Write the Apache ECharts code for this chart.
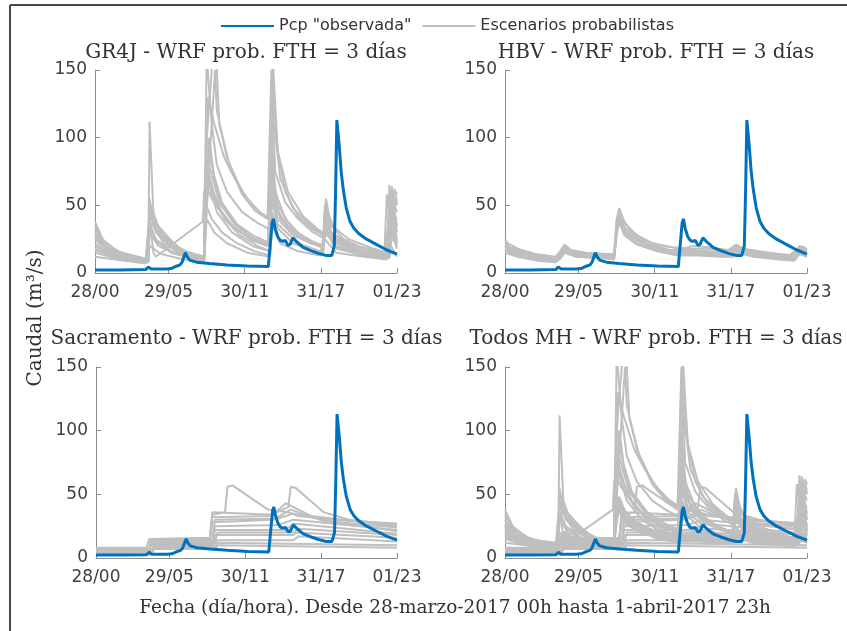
<!DOCTYPE html>
<html>
<head>
<meta charset="utf-8">
<script src="https://cdn.jsdelivr.net/npm/echarts@6/dist/echarts.min.js"></script>
<style>
  html, body { margin: 0; padding: 0; background: #fff; }
  #chart { width: 847px; height: 631px; }
</style>
</head>
<body>
<div id="chart"></div>
<script>
// horas desde 28-marzo 00h
var xTicks = [0, 29, 59, 89, 119]
var xTickLabels = ['28/00', '29/05', '30/11', '31/17', '01/23']
var panelTitles = [
  'GR4J - WRF prob. FTH = 3 días',
  'HBV - WRF prob. FTH = 3 días',
  'Sacramento - WRF prob. FTH = 3 días',
  'Todos MH - WRF prob. FTH = 3 días'
]

// caudal observado [hora, m3/s]
var obs = [[0,2.3],[10,2.3],[20,2.5],[21,4.5],[22,3],[28,3],[30,3.3],[32,5],[33.5,6],[34.3,8],[35,9],[35.6,15],[36.3,12],[37.3,9.5],[40,8],[45,7],[52,6],[60,5.2],[68.3,4.8],[69,20],[69.8,37],[70.3,40],[71,33],[72,27],[73,24],[74,23.5],[75,24],[76,20.5],[76.8,21],[78,26],[79.5,23],[82,19],[85,16.5],[88,14.5],[91,13],[93.3,13],[94.3,20],[94.8,60],[95.3,113],[96.2,95],[97,75],[97.8,62],[99,48],[100.5,38],[102,33],[104,29],[107,25],[111,21],[115,17],[119,14]]

// escenarios GR4J
var gr4j = [
  [[0,38],[3,25],[8,17],[14,12],[21,10],[21.5,112],[23,45],[26,28],[30,20],[36,15],[43,12],[44,160],[46,110],[48,80],[52,60],[58,45],[64,37],[69,32],[70,160],[72,90],[75,60],[80,42],[86,32],[90,28],[91,55],[93,35],[98,25],[105,19],[112,15],[115,14],[116,65],[117,40],[118,62],[119,58]],
  [[0,30],[4,20],[10,14],[20,10],[21.5,45],[23,38],[27,28],[32,20],[37,12],[43,10],[44,100],[46,150],[47.5,170],[49,110],[53,80],[58,58],[63,46],[68,40],[69.5,150],[71,75],[75,52],[80,40],[86,30],[90,26],[90.5,45],[93,30],[100,22],[108,17],[114,14],[115,58],[117,30],[119,25]],
  [[0,25],[5,16],[12,12],[21,10],[21.5,40],[23,15],[24,12],[42.5,38],[43,60],[45,70],[48,50],[55,33],[62,24],[68,20],[69.5,60],[72,40],[78,28],[85,22],[90,20],[90.6,40],[93,25],[100,19],[110,14],[116,13],[117,55],[119,22]],
  [[0,20],[6,14],[13,11],[21,9],[21.5,42],[30,24],[37.4,12],[43,10],[43.5,65],[46,55],[52,38],[60,27],[68,20],[69.5,75],[71,50],[76,33],[84,23],[90,19],[90.8,30],[95,20],[105,15],[115,12],[116,48],[119,20]],
  [[0,18],[6,13],[14,10],[21,8],[21.5,50],[23,35],[27,22],[33,15],[40,11],[43,10],[44,60],[45,100],[47,70],[50,50],[56,35],[62,26],[69,20],[70,70],[72,45],[78,30],[85,22],[90,19],[91,40],[94,26],[102,18],[110,14],[116,12],[117,60],[119,30]],
  [[0,15],[8,11],[20,8],[21.3,35],[24,25],[30,16],[38,12],[43,10],[43.8,50],[46,40],[50,30],[56,22],[63,16],[69,13],[69.8,45],[72,33],[78,22],[85,17],[90,15],[90.6,35],[94,20],[104,14],[114,11],[115.5,35],[117,25],[119,22]],
  [[0,12],[8,10],[20,7],[21.5,20],[26,14],[35,10],[43,9],[44,40],[47,30],[52,22],[60,15],[69,12],[69.8,35],[73,22],[80,16],[89,13],[90.5,25],[95,15],[106,12],[115,10],[116,22],[119,12]],
  [[0,22],[5,15],[12,11],[21,9],[21.4,30],[25,20],[32,14],[43,11],[43.5,80],[45,65],[48,45],[54,30],[62,20],[69,16],[69.6,100],[71,60],[75,40],[82,26],[90,20],[90.7,50],[93,30],[100,20],[108,15],[116,12],[116.5,45],[119,40]],
  [[0,28],[5,18],[13,12],[21,9],[21.6,38],[24,32],[30,22],[36,16],[43,12],[44.5,130],[47,110],[51,85],[55,70],[60,55],[65,45],[69,40],[70,140],[72,90],[76,60],[82,42],[88,32],[92,27],[96,24],[104,19],[112,16],[116,14],[117,30],[119,18]],
  [[0,33],[4,22],[10,15],[21,10],[21.5,48],[24,30],[30,19],[38,13],[43,11],[43.3,70],[45,90],[46.5,75],[50,52],[56,36],[63,27],[69,22],[69.7,80],[72,50],[78,32],[86,23],[90,20],[90.4,42],[94,25],[102,18],[112,14],[116,13],[116.3,60],[118,50],[119,45]],
  [[0,26],[6,16],[14,11],[21,9],[21.7,44],[25,28],[31,18],[40,12],[43,11],[44.2,85],[46,72],[49,52],[55,36],[62,26],[69,21],[69.9,65],[73,40],[80,27],[88,20],[90,18],[90.9,38],[95,22],[104,16],[114,12],[117.5,50],[119,35]],
  [[0,17],[7,12],[15,9],[21,8],[21.4,38],[24,24],[30,15],[40,10],[43,9],[44.6,75],[47,58],[51,40],[57,28],[64,20],[69,16],[69.6,55],[72,36],[80,22],[89,16],[90.5,33],[95,18],[106,13],[116,11],[118.5,58],[119,50]],
  [[0,35],[3,24],[9,16],[21,10],[21.5,55],[23,40],[28,24],[35,16],[43,12],[45.5,95],[47.3,150],[48,120],[52,85],[58,60],[63,48],[68,40],[70,120],[73,70],[78,48],[85,35],[90,28],[90.6,50],[94,34],[100,25],[108,19],[115,15],[116,40],[117,64],[118,30],[119,26]]
]

// escenarios HBV
var hbv = [
  [[0,25],[1,22],[5,18],[12,14],[20,12],[22,17],[23.5,21],[26,17],[32,15],[40,14],[43,14],[44,40],[45,48],[47,38],[50,30],[55,24],[62,20],[70,18],[74,20],[80,19],[88,17],[91,21],[94,18],[100,16],[108,14],[114,13],[116,20],[118,19],[119,17]],
  [[0,21],[3,17],[10,13],[20,10],[22,14],[23.5,19],[27,15],[35,13],[43,12],[44,36],[45,45],[47,34],[51,27],[57,21],[65,17],[72,17],[80,16],[88,15],[91,19],[95,16],[104,14],[113,12],[116,18],[119,16]],
  [[0,18],[4,14],[12,11],[20,9],[22,12],[23.5,17],[28,13],[36,12],[43,11],[44,32],[45,42],[47,31],[52,24],[58,19],[66,15],[74,15],[82,14],[89,13],[91,17],[96,14],[106,12],[114,10],[116,16],[119,14]],
  [[0,15],[5,12],[13,9],[20,8],[22,11],[23.5,15],[28,12],[38,11],[43,10],[44,28],[45,38],[47,28],[52,21],[60,16],[68,13],[76,13],[85,12],[90,12],[91.5,15],[98,12],[108,10],[114,9],[116,14],[119,12]],
  [[0,23],[2,19],[8,15],[16,12],[20,11],[22,15],[23.5,20],[26,16],[33,14],[43,13],[44,38],[45,46],[47.5,36],[52,28],[58,22],[66,19],[73,18],[80,18],[88,16],[91,20],[95,17],[103,15],[112,13],[116,19],[119,17]],
  [[0,20],[3,16],[10,12],[20,10],[22,13],[23.5,18],[27,14],[36,12],[43,12],[44,34],[45,44],[47,33],[52,25],[59,19],[67,16],[74,16],[82,15],[89,14],[91,18],[96,15],[105,13],[114,11],[116,17],[119,15]],
  [[0,17],[4,13],[12,10],[20,9],[22,12],[23.5,16],[28,12],[37,11],[43,11],[44,30],[45,40],[47,30],[52,22],[60,17],[68,14],[76,14],[84,13],[90,13],[91.5,16],[98,13],[107,11],[114,10],[116,15],[119,13]]
]

// escenarios Sacramento
var sac = [
  [[0,8],[20,8],[21,15],[45,15],[46,34],[51,36],[52,56],[54,57],[68,38],[76,36],[80,33],[100,29],[119,27]],
  [[0,7],[20,7],[21,14],[45,14],[46,32],[68,33],[76,40],[77,56],[79,55],[90,36],[100,30],[119,26]],
  [[0,6],[21,6],[22,13],[45,13],[46,28],[70,30],[77,38],[90,29],[119,24]],
  [[0,6],[21,6],[22,12],[46,12],[47,25],[72,26],[78,30],[119,22]],
  [[0,5],[21,5],[22,11],[46,11],[47,22],[75,22],[78,27],[119,19]],
  [[0,5],[22,5],[23,10],[46,10],[47,18],[78,18],[79,20],[119,16]],
  [[0,4],[22,4],[23,9],[46,9],[48,14],[78,14],[80,17],[119,13]],
  [[0,4],[22,4],[23,8],[47,8],[48,12],[119,10]],
  [[0,3],[22,3],[23,7],[47,7],[48,10],[119,8]],
  [[0,7],[21,7],[22,15],[45,16],[46,36],[70,34],[75,43],[85,33],[119,25]],
  [[0,6],[21,6],[22,14],[46,14],[47,30],[72,31],[78,35],[95,28],[119,21]],
  [[0,5],[22,5],[23,12],[47,12],[48,20],[78,20],[80,23],[119,18]]
]

// Todos MH = los tres modelos juntos
var todos = gr4j.concat(hbv, sac)
var panels = [gr4j, hbv, sac, todos]

var myChart = echarts.init(document.getElementById('chart'))

var grids = [
  { left: 95, top: 70, width: 302, height: 203 },
  { left: 505, top: 70, width: 302, height: 203 },
  { left: 96, top: 367, width: 301, height: 191 },
  { left: 505, top: 367, width: 302, height: 191 }
]

var xAxes = []
var yAxes = []
var titles = []
var series = []

for (var i = 0; i < 4; i++) {
  xAxes.push({
    type: 'value',
    gridIndex: i,
    min: 0,
    max: 119,
    axisLine: { lineStyle: { color: '#8c8c8c', width: 1 } },
    axisTick: { inside: true, length: 5, customValues: xTicks, lineStyle: { color: '#8c8c8c' } },
    axisLabel: {
      customValues: xTicks,
      margin: 11,
      fontFamily: 'DejaVu Sans',
      fontSize: 17,
      color: '#404040',
      formatter: function(val) {
        return xTickLabels[xTicks.indexOf(val)]
      }
    },
    splitLine: { show: false }
  })
  yAxes.push({
    type: 'value',
    gridIndex: i,
    min: 0,
    max: 150,
    interval: 50,
    axisLine: { show: true, lineStyle: { color: '#8c8c8c', width: 1 } },
    axisTick: { show: true, inside: true, length: 5, lineStyle: { color: '#8c8c8c' } },
    axisLabel: { margin: 8, fontFamily: 'DejaVu Sans', fontSize: 17, color: '#404040' },
    splitLine: { show: false }
  })
  titles.push({
    text: panelTitles[i],
    left: grids[i].left + grids[i].width / 2,
    top: i < 2 ? 43 : 329,
    textAlign: 'center',
    padding: 0,
    textStyle: { fontFamily: 'DejaVu Serif', fontWeight: 'normal', fontSize: 20, color: '#333' }
  })
  panels[i].forEach(function(member) {
    series.push({
      name: 'Escenarios probabilistas',
      type: 'line',
      xAxisIndex: i,
      yAxisIndex: i,
      symbol: 'none',
      silent: true,
      lineStyle: { color: '#bfbfbf', width: 2 },
      itemStyle: { color: '#bfbfbf' },
      data: member
    })
  })
}
// la observada encima de todo
for (var j = 0; j < 4; j++) {
  series.push({
    name: 'Pcp "observada"',
    type: 'line',
    xAxisIndex: j,
    yAxisIndex: j,
    symbol: 'none',
    z: 5,
    lineStyle: { color: '#0072bd', width: 3 },
    itemStyle: { color: '#0072bd' },
    data: obs
  })
}

var option = {
  animation: false,
  backgroundColor: '#fff',
  title: titles,
  legend: {
    left: 220,
    top: 18,
    padding: 0,
    itemWidth: 53,
    itemHeight: 14,
    itemGap: 10,
    // solo la linea, sin el circulo
    itemStyle: { color: 'rgba(0,0,0,0)', borderWidth: 0 },
    textStyle: { fontFamily: 'DejaVu Sans', fontSize: 16, color: '#333' },
    data: ['Pcp "observada"', 'Escenarios probabilistas']
  },
  grid: grids,
  xAxis: xAxes,
  yAxis: yAxes,
  series: series,
  graphic: [
    { type: 'line', shape: { x1: 10, y1: 5, x2: 847, y2: 5 }, style: { stroke: '#4a4a4a', lineWidth: 2 } },
    { type: 'line', shape: { x1: 10, y1: 5, x2: 10, y2: 631 }, style: { stroke: '#4a4a4a', lineWidth: 2 } },
    {
      type: 'text',
      x: 36,
      y: 318,
      rotation: Math.PI / 2,
      style: { text: 'Caudal (m³/s)', font: '20px "DejaVu Serif"', fill: '#333', textAlign: 'center', textVerticalAlign: 'middle' }
    },
    {
      type: 'text',
      x: 455,
      y: 608,
      style: { text: 'Fecha (día/hora). Desde 28-marzo-2017 00h hasta 1-abril-2017 23h', font: '18.5px "DejaVu Serif"', fill: '#333', textAlign: 'center', textVerticalAlign: 'middle' }
    }
  ]
}
myChart.setOption(option)
</script>
</body>
</html>
